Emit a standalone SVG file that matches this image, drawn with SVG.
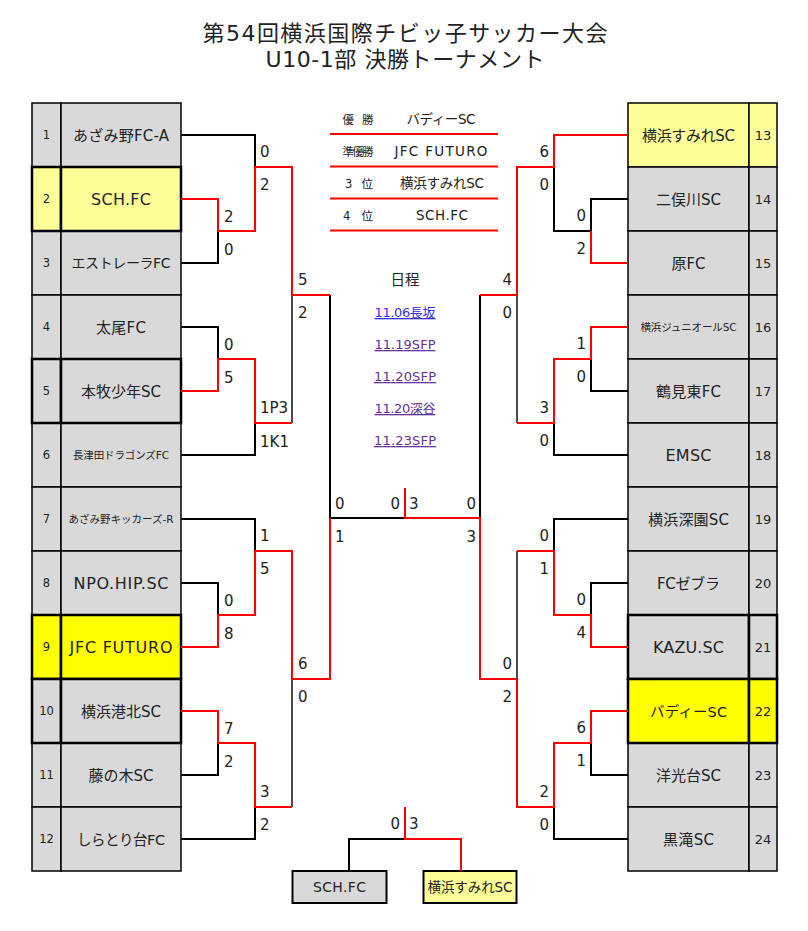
<svg xmlns="http://www.w3.org/2000/svg" width="808" height="931" viewBox="0 0 808 931">
<style>
text{font-family:"DejaVu Sans","Noto Sans CJK JP",sans-serif;fill:#222}
.c{stroke:#000;stroke-width:1.5}
.ck{stroke:#000;stroke-width:2.5}
.g{fill:#D9D9D9}
.ly{fill:#FFFF99}
.y{fill:#FFFF00}
.n{font-size:11.5px;text-anchor:middle}
.nr{font-size:13px;text-anchor:middle}
.t{text-anchor:middle}
.s{font-size:15px}
.e{text-anchor:end}
.bl{fill:none;stroke:#000;stroke-width:2}
.th{fill:none;stroke:#000;stroke-width:1.4}
.rd{fill:none;stroke:#FF0000;stroke-width:2}
.lk{font-size:13px;text-anchor:middle;text-decoration:underline}
.lbl{font-size:11.5px;text-anchor:middle}
.rn{font-size:13.5px;text-anchor:middle}
</style>
<rect width="808" height="931" fill="#fff"/>
<g id="title">
<text x="405" y="41" text-anchor="middle" font-size="22" textLength="405">第54回横浜国際チビッ子サッカー大会</text>
<text x="405" y="67" text-anchor="middle" font-size="22" textLength="279">U10-1部 決勝トーナメント</text>
</g>
<g id="results">
<path d="M330,134H498M330,166.5H498M330,198.5H498M330,230.5H498" class="rd"/>
<text class="lbl" x="358" y="124" textLength="31">優 勝</text>
<text class="rn" x="441" y="124" textLength="69">バディーSC</text>
<text class="lbl" x="358" y="156" textLength="31">準優勝</text>
<text class="rn" x="441" y="156" textLength="93">JFC FUTURO</text>
<text class="lbl" x="359" y="188" textLength="28">3 位</text>
<text class="rn" x="442" y="188" textLength="84">横浜すみれSC</text>
<text class="lbl" x="358" y="220" textLength="30">4 位</text>
<text class="rn" x="442" y="220" textLength="52">SCH.FC</text>
</g>
<g id="schedule">
<text x="405" y="285" text-anchor="middle" font-size="14.5">日程</text>
<text class="lk" x="405" y="317" textLength="61" style="fill:#3333EE">11.06長坂</text>
<text class="lk" x="405" y="349" textLength="61" style="fill:#663399">11.19SFP</text>
<text class="lk" x="405" y="381" textLength="62" style="fill:#663399">11.20SFP</text>
<text class="lk" x="405" y="413" textLength="61" style="fill:#663399">11.20深谷</text>
<text class="lk" x="405" y="445" textLength="62" style="fill:#663399">11.23SFP</text>
</g>
<g id="team-1"><rect class="c g" x="32" y="103" width="29" height="64"/><rect class="c g" x="61" y="103" width="120" height="64"/><text class="n" x="46.5" y="139">1</text><text class="t" x="121" y="140.5" font-size="15" textLength="96">あざみ野FC-A</text></g>
<g id="team-3"><rect class="c g" x="32" y="231" width="29" height="64"/><rect class="c g" x="61" y="231" width="120" height="64"/><text class="n" x="46.5" y="267">3</text><text class="t" x="121" y="268" font-size="14" textLength="99">エストレーラFC</text></g>
<g id="team-4"><rect class="c g" x="32" y="295" width="29" height="64"/><rect class="c g" x="61" y="295" width="120" height="64"/><text class="n" x="46.5" y="331">4</text><text class="t" x="121" y="332.5" font-size="15" textLength="50">太尾FC</text></g>
<g id="team-6"><rect class="c g" x="32" y="423" width="29" height="64"/><rect class="c g" x="61" y="423" width="120" height="64"/><text class="n" x="46.5" y="459">6</text><text class="t" x="121" y="459" font-size="10.5" textLength="96">長津田ドラゴンズFC</text></g>
<g id="team-7"><rect class="c g" x="32" y="487" width="29" height="64"/><rect class="c g" x="61" y="487" width="120" height="64"/><text class="n" x="46.5" y="523">7</text><text class="t" x="121" y="523" font-size="10.5" textLength="105">あざみ野キッカーズ-R</text></g>
<g id="team-8"><rect class="c g" x="32" y="551" width="29" height="64"/><rect class="c g" x="61" y="551" width="120" height="64"/><text class="n" x="46.5" y="587">8</text><text class="t" x="121" y="589" font-size="16" textLength="95">NPO.HIP.SC</text></g>
<g id="team-11"><rect class="c g" x="32" y="743" width="29" height="64"/><rect class="c g" x="61" y="743" width="120" height="64"/><text class="n" x="46.5" y="779">11</text><text class="t" x="121" y="780.5" font-size="15" textLength="65">藤の木SC</text></g>
<g id="team-12"><rect class="c g" x="32" y="807" width="29" height="64"/><rect class="c g" x="61" y="807" width="120" height="64"/><text class="n" x="46.5" y="843">12</text><text class="t" x="121" y="844.5" font-size="14.5" textLength="88">しらとり台FC</text></g>
<g id="team-2"><rect class="ck ly" x="32" y="167" width="29" height="64"/><rect class="ck ly" x="61" y="167" width="120" height="64"/><text class="n" x="46.5" y="203">2</text><text class="t" x="121" y="205" font-size="16" textLength="60">SCH.FC</text></g>
<g id="team-5"><rect class="ck g" x="32" y="359" width="29" height="64"/><rect class="ck g" x="61" y="359" width="120" height="64"/><text class="n" x="46.5" y="395">5</text><text class="t" x="121" y="396.5" font-size="15" textLength="80">本牧少年SC</text></g>
<g id="team-9"><rect class="ck y" x="32" y="615" width="29" height="64"/><rect class="ck y" x="61" y="615" width="120" height="64"/><text class="n" x="46.5" y="651">9</text><text class="t" x="121" y="653" font-size="16" textLength="103">JFC FUTURO</text></g>
<g id="team-10"><rect class="ck g" x="32" y="679" width="29" height="64"/><rect class="ck g" x="61" y="679" width="120" height="64"/><text class="n" x="46.5" y="715">10</text><text class="t" x="121" y="716.5" font-size="15" textLength="80">横浜港北SC</text></g>
<g id="team-13"><rect class="c ly" x="628" y="103" width="121" height="64"/><rect class="c ly" x="749" y="103" width="28" height="64"/><text class="nr" x="763" y="140">13</text><text class="t" x="688.5" y="140.5" font-size="15" textLength="93">横浜すみれSC</text></g>
<g id="team-14"><rect class="c g" x="628" y="167" width="121" height="64"/><rect class="c g" x="749" y="167" width="28" height="64"/><text class="nr" x="763" y="204">14</text><text class="t" x="688.5" y="204.5" font-size="15" textLength="65">二俣川SC</text></g>
<g id="team-15"><rect class="c g" x="628" y="231" width="121" height="64"/><rect class="c g" x="749" y="231" width="28" height="64"/><text class="nr" x="763" y="268">15</text><text class="t" x="688.5" y="268.5" font-size="15" textLength="34">原FC</text></g>
<g id="team-16"><rect class="c g" x="628" y="295" width="121" height="64"/><rect class="c g" x="749" y="295" width="28" height="64"/><text class="nr" x="763" y="332">16</text><text class="t" x="688.5" y="331" font-size="10.5" textLength="96">横浜ジュニオールSC</text></g>
<g id="team-17"><rect class="c g" x="628" y="359" width="121" height="64"/><rect class="c g" x="749" y="359" width="28" height="64"/><text class="nr" x="763" y="396">17</text><text class="t" x="688.5" y="396.5" font-size="15" textLength="65">鶴見東FC</text></g>
<g id="team-18"><rect class="c g" x="628" y="423" width="121" height="64"/><rect class="c g" x="749" y="423" width="28" height="64"/><text class="nr" x="763" y="460">18</text><text class="t" x="688.5" y="461" font-size="16" textLength="46">EMSC</text></g>
<g id="team-19"><rect class="c g" x="628" y="487" width="121" height="64"/><rect class="c g" x="749" y="487" width="28" height="64"/><text class="nr" x="763" y="524">19</text><text class="t" x="688.5" y="524.5" font-size="15" textLength="81">横浜深園SC</text></g>
<g id="team-20"><rect class="c g" x="628" y="551" width="121" height="64"/><rect class="c g" x="749" y="551" width="28" height="64"/><text class="nr" x="763" y="588">20</text><text class="t" x="688.5" y="588.5" font-size="15" textLength="63">FCゼブラ</text></g>
<g id="team-23"><rect class="c g" x="628" y="743" width="121" height="64"/><rect class="c g" x="749" y="743" width="28" height="64"/><text class="nr" x="763" y="780">23</text><text class="t" x="688.5" y="780.5" font-size="15" textLength="65">洋光台SC</text></g>
<g id="team-24"><rect class="c g" x="628" y="807" width="121" height="64"/><rect class="c g" x="749" y="807" width="28" height="64"/><text class="nr" x="763" y="844">24</text><text class="t" x="688.5" y="844.5" font-size="15" textLength="51">黒滝SC</text></g>
<g id="team-21"><rect class="ck g" x="628" y="615" width="121" height="64"/><rect class="ck g" x="749" y="615" width="28" height="64"/><text class="nr" x="763" y="652">21</text><text class="t" x="688.5" y="653" font-size="16" textLength="71">KAZU.SC</text></g>
<g id="team-22"><rect class="ck y" x="628" y="679" width="121" height="64"/><rect class="ck y" x="749" y="679" width="28" height="64"/><text class="nr" x="763" y="716">22</text><text class="t" x="688.5" y="716.5" font-size="14.5" textLength="77">バディーSC</text></g>
<g id="third-sch"><rect class="c g" x="292.5" y="871" width="94" height="32" style="stroke-width:2"/><text class="t" x="339.5" y="892" font-size="14" textLength="53">SCH.FC</text></g>
<g id="third-sumire"><rect class="c ly" x="423.5" y="871" width="93" height="32" style="stroke-width:2"/><text class="t" x="470" y="892" font-size="13.5" textLength="85">横浜すみれSC</text></g>
<g id="connectors">
<path class="bl" d="M181,135H255V167M181,263H218V231M181,327H218V359M181,455H255V423M181,519H255V551M181,583H218V615M181,775H218V743M181,839H255V807"/>
<path class="bl" d="M330,295V518H405"/>
<path class="th" d="M292,295V423M292,679V807"/>
<path class="rd" d="M181,199H218V231H255V167H292V295H330"/>
<path class="rd" d="M181,391H218V359H255V423H292"/>
<path class="rd" d="M181,647H218V615H255V551H292V679H330V518"/>
<path class="rd" d="M181,711H218V743H255V807H292"/>
<path class="bl" d="M628,199H591V231H554V167M628,391H591V359M628,455H554V423M628,519H554V551M628,583H591V615M628,775H591V743M628,839H554V807"/>
<path class="bl" d="M480,295V518"/>
<path class="th" d="M517,295V423M517,551V679"/>
<path class="rd" d="M628,135H554V167H517V295H480"/>
<path class="rd" d="M628,263H591V231"/>
<path class="rd" d="M628,327H591V359H554V423H517"/>
<path class="rd" d="M628,647H591V615H554V551H517"/>
<path class="rd" d="M628,711H591V743H554V807H517V679H480V518H405V488"/>
<path class="bl" d="M349,871V839H405"/>
<path class="rd" d="M405,807V839H461V871"/>
</g>
<g id="scores">
<text class="s" x="224" y="222">2</text><text class="s" x="224" y="255">0</text>
<text class="s" x="224" y="350">0</text><text class="s" x="224" y="383">5</text>
<text class="s" x="224" y="606">0</text><text class="s" x="224" y="639">8</text>
<text class="s" x="224" y="734">7</text><text class="s" x="224" y="767">2</text>
<text class="s" x="260" y="157">0</text><text class="s" x="260" y="190">2</text>
<text class="s" x="260" y="413">1P3</text><text class="s" x="260" y="447">1K1</text>
<text class="s" x="260" y="541">1</text><text class="s" x="260" y="574">5</text>
<text class="s" x="260" y="797">3</text><text class="s" x="260" y="830">2</text>
<text class="s" x="298" y="285">5</text><text class="s" x="298" y="318">2</text>
<text class="s" x="298" y="669">6</text><text class="s" x="298" y="702">0</text>
<text class="s" x="335" y="509">0</text><text class="s" x="335" y="542">1</text>
<text class="s e" x="400" y="509">0</text><text class="s" x="409" y="509">3</text>
<text class="s e" x="476" y="509">0</text><text class="s e" x="476" y="542">3</text>
<text class="s e" x="512" y="285">4</text><text class="s e" x="512" y="318">0</text>
<text class="s e" x="512" y="669">0</text><text class="s e" x="512" y="702">2</text>
<text class="s e" x="549" y="157">6</text><text class="s e" x="549" y="190">0</text>
<text class="s e" x="549" y="413">3</text><text class="s e" x="549" y="446">0</text>
<text class="s e" x="549" y="541">0</text><text class="s e" x="549" y="574">1</text>
<text class="s e" x="549" y="797">2</text><text class="s e" x="549" y="830">0</text>
<text class="s e" x="586" y="221">0</text><text class="s e" x="586" y="254">2</text>
<text class="s e" x="586" y="349">1</text><text class="s e" x="586" y="382">0</text>
<text class="s e" x="586" y="605">0</text><text class="s e" x="586" y="638">4</text>
<text class="s e" x="586" y="733">6</text><text class="s e" x="586" y="766">1</text>
<text class="s e" x="400" y="829">0</text><text class="s" x="409" y="829">3</text>
</g>
</svg>
